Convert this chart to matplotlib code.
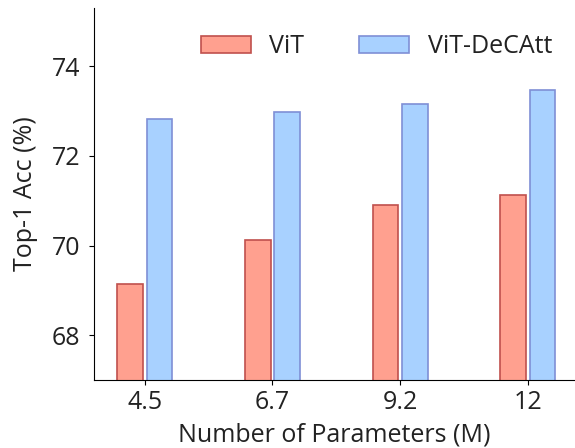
import numpy as np
import matplotlib.pyplot as plt

# data
params = ['4.5', '6.7', '9.2', '12']
vit = [69.14, 70.13, 70.9, 71.12]
vit_decatt = [72.82, 72.97, 73.16, 73.48]

plt.rcParams.update({"font.family": 'Open Sans', "font.size": 18,
                     "text.color": '#222222', "axes.labelcolor": '#222222',
                     "xtick.labelcolor": '#222222', "ytick.labelcolor": '#222222'})

fig = plt.figure(figsize=(5.75, 4.48), dpi=100)
ax = fig.add_axes([0.163, 0.152, 0.837, 0.830])

x = np.arange(len(params))
w = 0.2
gap = 0.03
ax.bar(x - w / 2 - gap / 2, vit, w, color='#ffa08f', edgecolor='#c0504d',
       linewidth=1.2, label='ViT')
ax.bar(x + w / 2 + gap / 2, vit_decatt, w, color='#a8d1ff', edgecolor='#7f8fd6',
       linewidth=1.2, label='ViT-DeCAtt')

ax.set_xticks(x)
ax.set_xticklabels(params)
ax.set_yticks([68, 70, 72, 74])
ax.set_ylim(67.0, 75.3)
ax.set_xlim(-0.4, 3.37)
ax.tick_params(axis='y', pad=6)
ax.set_xlabel('Number of Parameters (M)', labelpad=6)
ax.set_ylabel('Top-1 Acc (%)', labelpad=10)

ax.spines['top'].set_visible(False)
ax.spines['right'].set_visible(False)

ax.legend(loc='upper right', ncol=2, frameon=False, handlelength=2.0,
          handletextpad=0.75, columnspacing=2.2, bbox_to_anchor=(1.0, 0.99))

fig.savefig('out.png', dpi=100)
